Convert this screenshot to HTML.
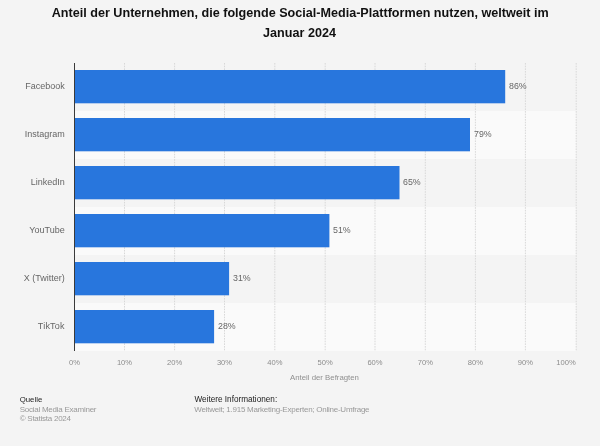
<!DOCTYPE html>
<html><head><meta charset="utf-8">
<style>
*{margin:0;padding:0;box-sizing:border-box}
body{will-change:transform}
html,body{width:600px;height:446px;overflow:hidden;background:#f4f4f4;font-family:"Liberation Sans",sans-serif}
.t{position:absolute;white-space:nowrap;line-height:1}
.title{position:absolute;width:599px;text-align:center;font-weight:bold;font-size:12.6px;line-height:18.6px;color:#111}
.cat{position:absolute;right:535.3px;font-size:9px;color:#666;line-height:10px;white-space:nowrap}
.val{position:absolute;font-size:9.6px;color:#666;line-height:10px;white-space:nowrap;transform:scaleX(0.92);transform-origin:0 0}
.tick{position:absolute;top:358.8px;font-size:7.6px;color:#8c8c8c;line-height:8px;width:40px;text-align:center;white-space:nowrap}
.foot{position:absolute;font-size:8px;letter-spacing:-0.25px;line-height:8px;color:#999;white-space:nowrap}
</style></head><body>
<div class="title" style="top:3.85px;left:0.7px">Anteil der Unternehmen, die folgende Social-Media-Plattformen nutzen, weltweit im</div>
<div class="title" style="top:23.8px;left:0px">Januar 2024</div>
<svg width="600" height="446" style="position:absolute;left:0;top:0">
<rect x="75" y="111" width="501" height="48" fill="#fafafa"/>
<rect x="75" y="207" width="501" height="48" fill="#fafafa"/>
<rect x="75" y="303" width="501" height="48" fill="#fafafa"/>
<line x1="124.5" y1="63" x2="124.5" y2="351" stroke="#d8d8d8" stroke-width="1" stroke-dasharray="1.6 1.07"/>
<line x1="174.6" y1="63" x2="174.6" y2="351" stroke="#d8d8d8" stroke-width="1" stroke-dasharray="1.6 1.07"/>
<line x1="224.5" y1="63" x2="224.5" y2="351" stroke="#d8d8d8" stroke-width="1" stroke-dasharray="1.6 1.07"/>
<line x1="274.8" y1="63" x2="274.8" y2="351" stroke="#d8d8d8" stroke-width="1" stroke-dasharray="1.6 1.07"/>
<line x1="325.2" y1="63" x2="325.2" y2="351" stroke="#d8d8d8" stroke-width="1" stroke-dasharray="1.6 1.07"/>
<line x1="375.0" y1="63" x2="375.0" y2="351" stroke="#d8d8d8" stroke-width="1" stroke-dasharray="1.6 1.07"/>
<line x1="425.3" y1="63" x2="425.3" y2="351" stroke="#d8d8d8" stroke-width="1" stroke-dasharray="1.6 1.07"/>
<line x1="475.4" y1="63" x2="475.4" y2="351" stroke="#d8d8d8" stroke-width="1" stroke-dasharray="1.6 1.07"/>
<line x1="525.4" y1="63" x2="525.4" y2="351" stroke="#d8d8d8" stroke-width="1" stroke-dasharray="1.6 1.07"/>
<line x1="576.2" y1="63" x2="576.2" y2="351" stroke="#d8d8d8" stroke-width="1" stroke-dasharray="1.6 1.07"/>
<rect x="75" y="70" width="430.20" height="33.3" fill="#2876dd"/>
<rect x="75" y="118" width="395.00" height="33.3" fill="#2876dd"/>
<rect x="75" y="166" width="324.50" height="33.3" fill="#2876dd"/>
<rect x="75" y="214" width="254.40" height="33.3" fill="#2876dd"/>
<rect x="75" y="262" width="154.10" height="33.3" fill="#2876dd"/>
<rect x="75" y="310" width="139.10" height="33.3" fill="#2876dd"/>
<rect x="74" y="63" width="1" height="288" fill="#3a3a3a"/>
</svg>
<div class="cat" style="top:81.4px">Facebook</div>
<div class="cat" style="top:129.4px">Instagram</div>
<div class="cat" style="top:177.4px">LinkedIn</div>
<div class="cat" style="top:225.4px">YouTube</div>
<div class="cat" style="top:273.4px">X (Twitter)</div>
<div class="cat" style="top:321.4px;letter-spacing:0.2px">TikTok</div>
<div class="val" style="top:81.4px;left:508.8px">86%</div>
<div class="val" style="top:129.4px;left:473.6px">79%</div>
<div class="val" style="top:177.4px;left:403.1px">65%</div>
<div class="val" style="top:225.4px;left:333.0px">51%</div>
<div class="val" style="top:273.4px;left:232.7px">31%</div>
<div class="val" style="top:321.4px;left:217.7px">28%</div>
<div class="tick" style="left:54.5px">0%</div>
<div class="tick" style="left:104.5px">10%</div>
<div class="tick" style="left:154.6px">20%</div>
<div class="tick" style="left:204.5px">30%</div>
<div class="tick" style="left:254.8px">40%</div>
<div class="tick" style="left:305.2px">50%</div>
<div class="tick" style="left:355.0px">60%</div>
<div class="tick" style="left:405.3px">70%</div>
<div class="tick" style="left:455.4px">80%</div>
<div class="tick" style="left:505.4px">90%</div>
<div class="tick" style="left:535.8px;text-align:right;width:40px">100%</div>
<div class="t" style="left:290px;top:374.2px;font-size:7.8px;color:#8f8f8f">Anteil der Befragten</div>
<div class="foot" style="left:19.7px;top:395.6px;color:#222;font-size:7.8px;letter-spacing:0">Quelle</div>
<div class="foot" style="left:19.7px;top:405.8px">Social Media Examiner</div>
<div class="foot" style="left:19.7px;top:414.6px">© Statista 2024</div>
<div class="foot" style="left:194.5px;top:396.4px;color:#222;font-size:8.2px;letter-spacing:0">Weitere Informationen:</div>
<div class="foot" style="left:194.3px;top:406.2px">Weltweit; 1.915 Marketing-Experten; Online-Umfrage</div>
</body></html>
